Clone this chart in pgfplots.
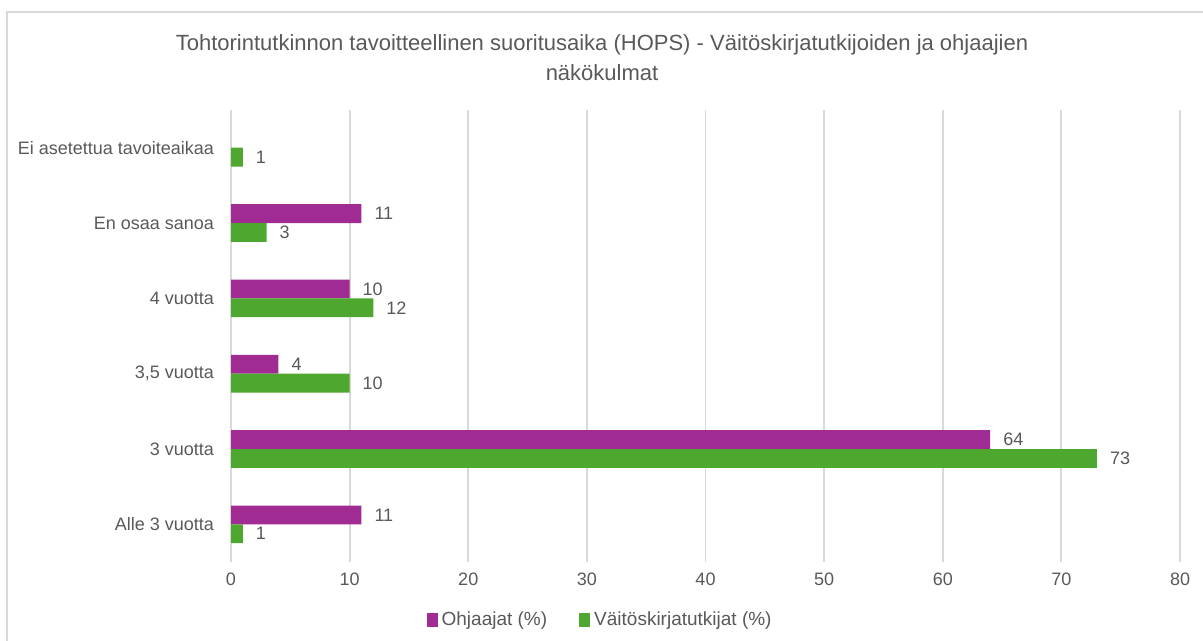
\documentclass[border=0pt]{standalone}
\usepackage{pgfplots}
\pgfplotsset{compat=1.18}
\usepackage{fontspec}
\setmainfont{Liberation Sans}
\definecolor{purp}{HTML}{A02B93}
\definecolor{grn}{HTML}{4EA72E}
\definecolor{txt}{HTML}{595959}
\definecolor{gridc}{HTML}{D9D9D9}
\begin{document}
\begin{tikzpicture}
\useasboundingbox (0,0) rectangle (601.5pt,-320.5pt);
\draw[gridc, line width=1pt] (3.5pt,-320.5pt) -- (3.5pt,-6pt) -- (601.5pt,-6pt);
\node[txt, font=\fontsize{11}{15}\selectfont, align=center] at (301pt,-29pt)
  {Tohtorintutkinnon tavoitteellinen suoritusaika (HOPS) - Väitöskirjatutkijoiden ja ohjaajien\\näkökulmat};
\begin{axis}[
  at={(115.5pt,-281pt)}, anchor=south west,
  scale only axis, width=474.5pt, height=226pt,
  xbar, bar width=0.25,
  xmin=0, xmax=80, ymin=-0.5, ymax=5.5,
  xtick={0,10,...,80}, ytick={0,1,2,3,4,5},
  yticklabels={Alle 3 vuotta, 3 vuotta, {3,5 vuotta}, 4 vuotta, En osaa sanoa, Ei asetettua tavoiteaikaa},
  /pgf/number format/assume math mode=true,
  axis line style={draw=none},
  major tick length=0pt,
  xmajorgrids, grid style={gridc, line width=0.9pt},
  ticklabel style={font=\fontsize{9}{11}\selectfont, text=txt},
  yticklabel style={xshift=-5pt},
  xticklabel style={yshift=-2pt},
  nodes near coords,
  nodes near coords style={font=\fontsize{9}{11}\selectfont, text=txt, anchor=west, xshift=3pt},
  legend style={at={(0.39,-0.128)}, anchor=center, draw=none, legend columns=2,
    font=\fontsize{9.5}{11}\selectfont, text=txt,
    /tikz/every even column/.append style={column sep=14pt}},
  legend image code/.code={\fill[#1, draw=none] (0pt,-3.5pt) rectangle (5.5pt,3.5pt);},
]
\addplot[fill=purp, draw=none, bar shift=0.125] coordinates {(11,0) (64,1) (4,2) (10,3) (11,4)};
\addlegendentry{Ohjaajat (\%)}
\addplot[fill=grn, draw=none, bar shift=-0.125] coordinates {(1,0) (73,1) (10,2) (12,3) (3,4) (1,5)};
\addlegendentry{Väitöskirjatutkijat (\%)}
\end{axis}
\end{tikzpicture}
\end{document}
